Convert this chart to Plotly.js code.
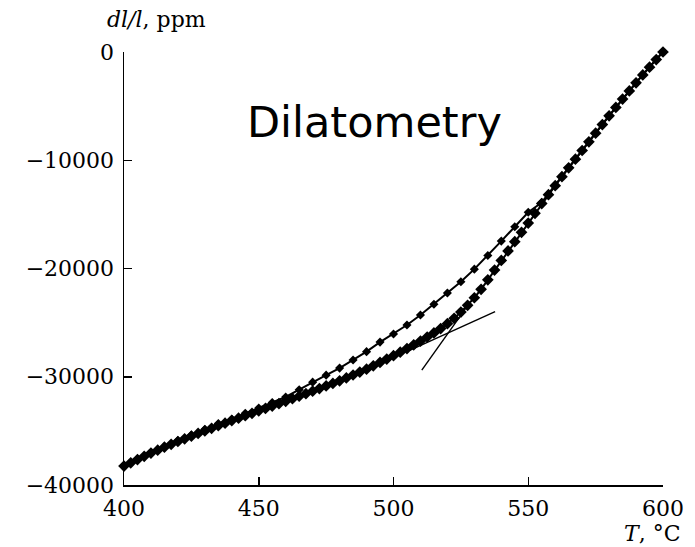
<!DOCTYPE html>
<html>
<head>
<meta charset="utf-8">
<script src="https://cdn.plot.ly/plotly-3.0.1.min.js"></script>
<style>html,body{margin:0;padding:0;background:#fff;}#chart{width:695px;height:547px;}</style>
</head>
<body>
<div id="chart"></div>
<script>
// Heating curve (large diamond markers)
const tempA = [400,402.5,405,407.5,410,412.5,415,417.5,420,422.5,425,427.5,430,432.5,435,437.5,440,442.5,445,447.5,450,452.5,455,457.5,460,462.5,465,467.5,470,472.5,475,477.5,480,482.5,485,487.5,490,492.5,495,497.5,500,502.5,505,507.5,510,512.5,515,517.5,520,522.5,525,527.5,530,532.5,535,537.5,540,542.5,545,547.5,550,552.5,555,557.5,560,562.5,565,567.5,570,572.5,575,577.5,580,582.5,585,587.5,590,592.5,595,597.5,600];
const dilA = [-38250,-37950,-37650,-37350,-37050,-36780,-36510,-36240,-35980,-35730,
  -35490,-35240,-35000,-34760,-34520,-34290,-34050,-33830,-33600,-33380,
  -33150,-32930,-32710,-32490,-32270,-32030,-31800,-31560,-31330,-31090,
  -30850,-30620,-30380,-30110,-29840,-29570,-29300,-28990,-28680,-28370,
  -28050,-27730,-27400,-27050,-26700,-26330,-25950,-25550,-25100,-24600,
  -24030,-23400,-22700,-21920,-21050,-20150,-19250,-18380,-17520,-16660,
  -15800,-14900,-14000,-13180,-12350,-11520,-10700,-9900,-9100,-8300,
  -7500,-6700,-5900,-5120,-4350,-3600,-2850,-2120,-1400,-700,0];

// Second curve (small diamond markers joined by a line)
const tempB = [400,405,410,415,420,425,430,435,440,445,450,455,460,465,470,475,480,485,490,495,500,505,510,515,520,525,530,535,540,545,550,555,560,565,570,575,580,585,590,595,600];
const dilB = [-38200,-37600,-37000,-36450,-35900,-35380,-34850,-34330,-33900,-33380,
  -32880,-32380,-31870,-31200,-30500,-29850,-29200,-28450,-27680,-26800,
  -26050,-25220,-24300,-23300,-22270,-21230,-20060,-18800,-17470,-16140,
  -14800,-13900,-12320,-10680,-9080,-7480,-5880,-4330,-2830,-1380,20];

// Tangent construction lines
const tangentSteepT = [510.5, 527];
const tangentSteepV = [-29380, -23620];
const tangentFlatT = [506, 537.7];
const tangentFlatV = [-27570, -23990];

const xTickVals = [400, 450, 500, 550, 600];
const xTickText = ['400', '450', '500', '550', '600'];
const yTickVals = [0, -10000, -20000, -30000, -40000];
const yTickText = ['0', '\u221210000', '\u221220000', '\u221230000', '\u221240000'];

const serif = 'DejaVu Serif';

const traces = [
  {x: tempA, y: dilA, type: 'scatter', mode: 'lines+markers', cliponaxis: false,
   line: {color: '#000', width: 2},
   marker: {symbol: 'diamond', size: 9, color: '#000'}},
  {x: tempB, y: dilB, type: 'scatter', mode: 'lines+markers', cliponaxis: false,
   line: {color: '#000', width: 2},
   marker: {symbol: 'diamond', size: 7, color: '#000'}},
  {x: tangentSteepT, y: tangentSteepV, type: 'scatter', mode: 'lines',
   line: {color: '#000', width: 1.4}},
  {x: tangentFlatT, y: tangentFlatV, type: 'scatter', mode: 'lines',
   line: {color: '#000', width: 1.4}}
];

const layout = {
  width: 695, height: 547,
  margin: {l: 124, r: 32, t: 52, b: 62},
  paper_bgcolor: '#fff', plot_bgcolor: '#fff',
  showlegend: false,
  xaxis: {
    range: [400, 600], tickvals: xTickVals, ticktext: xTickText,
    showgrid: false, zeroline: false, showline: true, linecolor: '#000', linewidth: 1.5,
    ticks: 'inside', ticklen: 8, tickwidth: 1.5, tickcolor: '#000', ticklabelstandoff: 3,
    tickfont: {family: serif, size: 22, color: '#000'}
  },
  yaxis: {
    range: [-40000, 0], tickvals: yTickVals, ticktext: yTickText,
    showgrid: false, zeroline: false, showline: true, linecolor: '#000', linewidth: 1.5,
    ticks: 'inside', ticklen: 8, tickwidth: 1.5, tickcolor: '#000', ticklabelstandoff: 4,
    tickfont: {family: serif, size: 22, color: '#000'}
  },
  annotations: [
    {text: '<i>dl/l</i>, ppm', xref: 'paper', yref: 'paper', x: 0.0594, y: 1.074,
     xanchor: 'center', yanchor: 'middle', showarrow: false,
     font: {family: serif, size: 22, color: '#000'}},
    {text: '<i>T</i>, °C', xref: 'paper', yref: 'paper', x: 0.981, y: -0.111,
     xanchor: 'center', yanchor: 'middle', showarrow: false,
     font: {family: serif, size: 22, color: '#000'}},
    {text: 'Dilatometry', xref: 'paper', yref: 'paper', x: 0.465, y: 0.838,
     xanchor: 'center', yanchor: 'middle', showarrow: false,
     font: {family: 'DejaVu Sans', size: 43, color: '#000'}}
  ]
};

Plotly.newPlot('chart', traces, layout, {displayModeBar: false, staticPlot: true});
</script>
</body>
</html>
